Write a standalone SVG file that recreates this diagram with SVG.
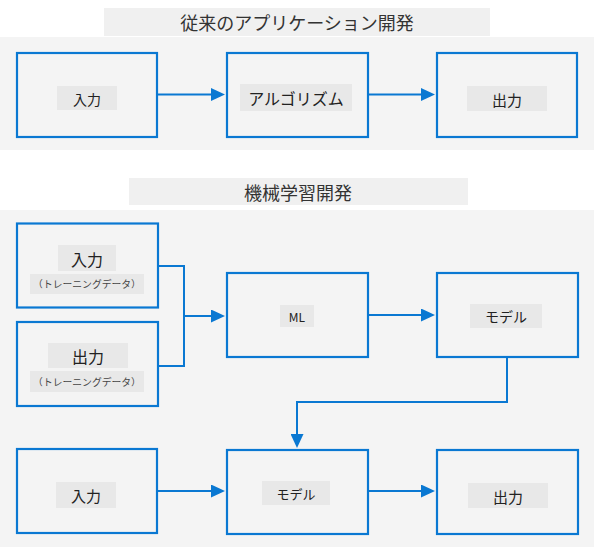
<svg xmlns="http://www.w3.org/2000/svg" width="594" height="547" viewBox="0 0 594 547">
<style>
.panel{fill:#f4f4f4}
.title-bg{fill:#f0f0f0}
.lbl-bg{fill:#e8e8e8}
.box{fill:none;stroke:#0a78d2;stroke-width:2.2}
.conn{fill:none;stroke:#0a78d2;stroke-width:2}
text{font-family:"Noto Sans CJK JP","Noto Sans",sans-serif;fill:#222;text-anchor:middle;dominant-baseline:central}
.title{font-size:18px;fill:#333}
.sub{font-size:9.8px;fill:#444}
</style>
<defs>
<marker id="arr" markerUnits="userSpaceOnUse" markerWidth="14" markerHeight="13" refX="8" refY="6.5" orient="auto">
<path d="M0,0 L14,6.5 L0,13 Z" fill="#0a78d2"/>
</marker>
</defs>
<rect class="panel" x="0" y="37" width="594" height="113"/>
<rect class="panel" x="0" y="210" width="594" height="337"/>
<g id="title-traditional">
<rect class="title-bg" x="104" y="8" width="386" height="28"/>
<text class="title" x="297" y="22">従来のアプリケーション開発</text>
</g>
<g id="title-ml">
<rect class="title-bg" x="129" y="178" width="339" height="27"/>
<text class="title" x="298" y="192">機械学習開発</text>
</g>
<g id="t-input">
<rect class="box" x="17" y="53" width="140" height="84"/>
<rect class="lbl-bg" x="57" y="86" width="60" height="24"/>
<text x="87" y="99" font-size="14">入力</text>
</g>
<g id="t-algo">
<rect class="box" x="227" y="53" width="141" height="84"/>
<rect class="lbl-bg" x="240" y="84" width="112" height="27"/>
<text x="296" y="98" font-size="16">アルゴリズム</text>
</g>
<g id="t-output">
<rect class="box" x="437" y="53" width="140" height="84"/>
<rect class="lbl-bg" x="467" y="86" width="80" height="25"/>
<text x="507" y="99.5" font-size="15">出力</text>
</g>
<g id="m-input">
<rect class="box" x="17" y="223.5" width="141" height="84"/>
<rect class="lbl-bg" x="58" y="245" width="58" height="26"/>
<text x="87" y="258.5" font-size="16">入力</text>
<rect class="lbl-bg" x="30" y="274" width="114" height="20"/>
<text class="sub" x="87" y="284">（トレーニングデータ）</text>
</g>
<g id="m-output">
<rect class="box" x="17" y="322" width="141" height="84"/>
<rect class="lbl-bg" x="48" y="343" width="80" height="25"/>
<text x="88" y="356" font-size="16">出力</text>
<rect class="lbl-bg" x="30" y="371" width="114" height="21"/>
<text class="sub" x="87" y="381.5">（トレーニングデータ）</text>
</g>
<g id="m-ml">
<rect class="box" x="227" y="273" width="141" height="84"/>
<rect class="lbl-bg" x="280" y="305" width="34" height="22"/>
<text x="297" y="316" font-size="12">ML</text>
</g>
<g id="m-model">
<rect class="box" x="437" y="273" width="141" height="84"/>
<rect class="lbl-bg" x="470" y="304" width="72" height="24"/>
<text x="506" y="316" font-size="14">モデル</text>
</g>
<g id="b-input">
<rect class="box" x="17" y="449" width="140" height="84"/>
<rect class="lbl-bg" x="56" y="482" width="60" height="26"/>
<text x="86" y="495.5" font-size="15">入力</text>
</g>
<g id="b-model">
<rect class="box" x="227" y="450" width="141" height="84"/>
<rect class="lbl-bg" x="262" y="481" width="68" height="24"/>
<text x="296" y="493" font-size="13">モデル</text>
</g>
<g id="b-output">
<rect class="box" x="437" y="450" width="141" height="84"/>
<rect class="lbl-bg" x="468" y="483" width="80" height="25"/>
<text x="508" y="496" font-size="15">出力</text>
</g>
<g id="connectors">
<path class="conn" d="M158,94.5 H219" marker-end="url(#arr)"/>
<path class="conn" d="M369,94.5 H429" marker-end="url(#arr)"/>
<path class="conn" d="M158,266 H184 V366 H158"/>
<path class="conn" d="M184,316 H219" marker-end="url(#arr)"/>
<path class="conn" d="M369,315 H429" marker-end="url(#arr)"/>
<path class="conn" d="M507,358 V402 H297 V442" marker-end="url(#arr)"/>
<path class="conn" d="M158,491 H219" marker-end="url(#arr)"/>
<path class="conn" d="M369,491 H429" marker-end="url(#arr)"/>
</g>
</svg>
